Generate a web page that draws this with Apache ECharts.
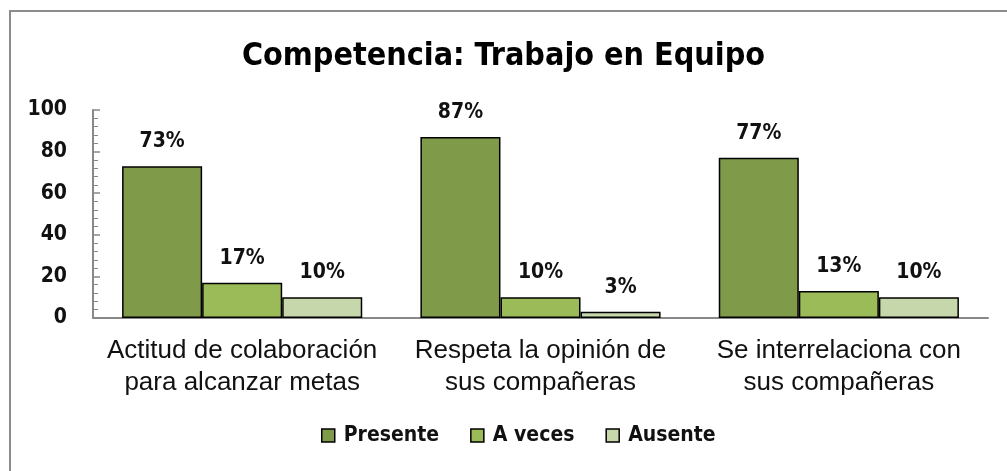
<!DOCTYPE html>
<html><head><meta charset="utf-8">
<script src="https://cdn.jsdelivr.net/npm/echarts@6/dist/echarts.min.js"></script>
<style>html,body{margin:0;padding:0;background:#fff}#c{width:1007px;height:471px}</style>
</head><body><div id="c"></div>
<script>
const categories = ['Actitud de colaboración\npara alcanzar metas', 'Respeta la opinión de\nsus compañeras', 'Se interrelaciona con\nsus compañeras'];
const seriesNames = ['Presente', 'A veces', 'Ausente'];
const presente = [73, 87, 77];
const aveces = [17, 10, 13];
const ausente = [10, 3, 10];
const colors = ['#7F9B4A', '#9BBB59', '#C6D7AB'];
const NARROW = '"Liberation Sans Narrow","DejaVu Sans Condensed","Arial Narrow",sans-serif';

const chart = echarts.init(document.getElementById('c'), null, {renderer: 'canvas'});
const mk = (name, data, color) => ({
  name, type: 'bar', data,
  barGap: '0%', barCategoryGap: '19.5%',
  itemStyle: {color, borderColor: '#000', borderWidth: 1.5},
  label: {show: true, position: 'top', distance: 14, formatter: p => p.value + '%',
    fontFamily: NARROW, fontWeight: 'bold', fontSize: 21, color: '#111'}
});
chart.setOption({
  animation: false,
  graphic: [{type: 'rect', shape: {x: 10, y: 11, width: 1100, height: 600},
    style: {fill: 'none', stroke: '#8c8c8c', lineWidth: 2}, z: -1}],
  title: {text: 'Competencia: Trabajo en Equipo', left: 'center', top: 36,
    textStyle: {fontFamily: NARROW, fontWeight: 'bold', fontSize: 32, color: '#000'}},
  legend: {bottom: 20, left: 316, itemWidth: 13, itemHeight: 13, itemGap: 31,
    icon: 'rect',
    itemStyle: {borderColor: '#000', borderWidth: 1.5},
    textStyle: {fontFamily: NARROW, fontWeight: 'bold', fontSize: 21, color: '#111', padding: [0, 0, 0, 4]}},
  grid: {left: 93, right: 19, top: 110, bottom: 153, containLabel: false},
  xAxis: {type: 'category', data: categories,
    axisLine: {lineStyle: {color: '#888', width: 2}},
    axisTick: {show: false},
    axisLabel: {fontFamily: '"Liberation Sans",Arial,sans-serif', fontSize: 26, color: '#111',
      lineHeight: 32, margin: 17, interval: 0}},
  yAxis: {type: 'value', min: 0, max: 100, interval: 20,
    splitLine: {show: false},
    axisLine: {show: true, lineStyle: {color: '#888', width: 2}},
    axisTick: {show: true, inside: true, length: 7, lineStyle: {color: '#888', width: 1.5}},
    minorTick: {show: true, splitNumber: 5, length: 5, lineStyle: {color: '#888', width: 1}},
    axisLabel: {fontFamily: NARROW, fontWeight: 'bold', fontSize: 21, color: '#111', margin: 26}},
  series: [mk(seriesNames[0], presente, colors[0]), mk(seriesNames[1], aveces, colors[1]), mk(seriesNames[2], ausente, colors[2])]
});
</script></body></html>
